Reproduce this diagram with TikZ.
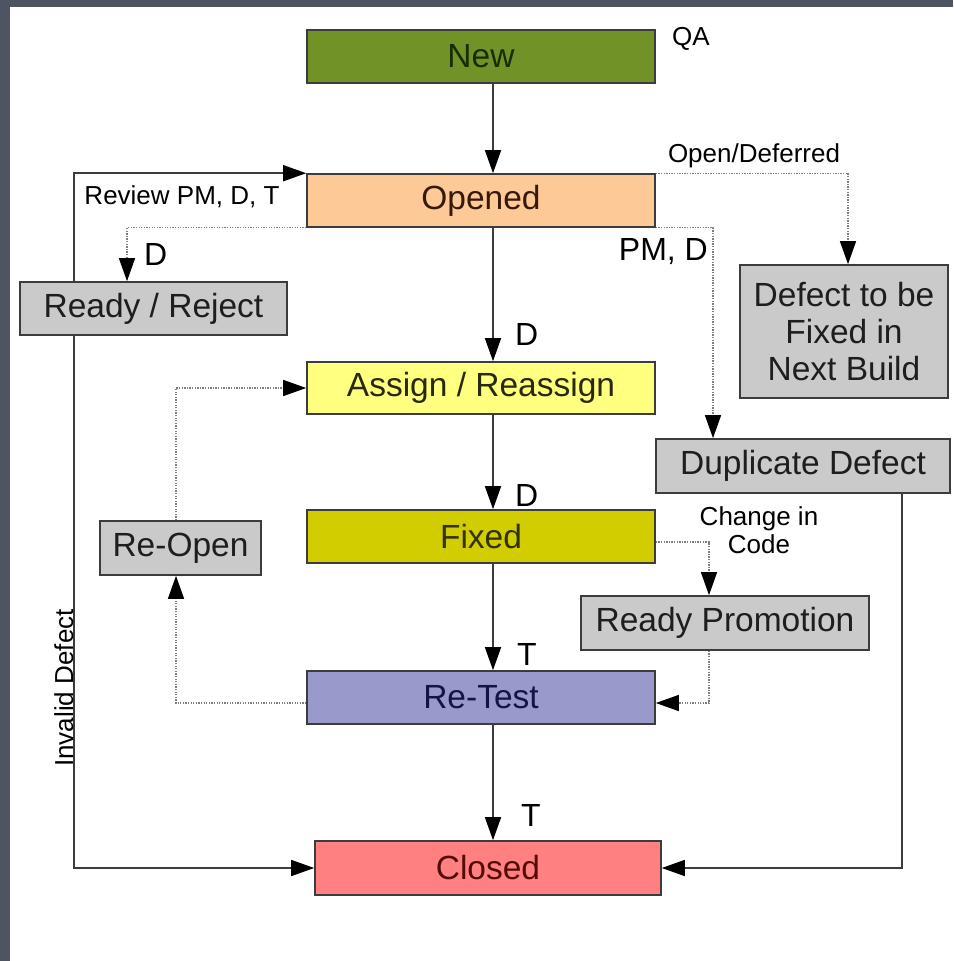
\documentclass[tikz,border=0pt]{standalone}
\usepackage{fontspec}
\setmainfont{Liberation Sans}
\usetikzlibrary{arrows.meta}
\definecolor{bgdark}{RGB}{78,84,98}
\definecolor{boxline}{RGB}{60,60,60}
\definecolor{linec}{RGB}{60,60,60}
\definecolor{dotgray}{RGB}{125,125,125}
\definecolor{cnew}{RGB}{112,146,38}
\definecolor{tnew}{RGB}{25,45,5}
\definecolor{copened}{RGB}{252,201,151}
\definecolor{topened}{RGB}{55,25,10}
\definecolor{cassign}{RGB}{255,255,128}
\definecolor{tassign}{RGB}{40,40,10}
\definecolor{cfixed}{RGB}{210,205,0}
\definecolor{tfixed}{RGB}{50,50,5}
\definecolor{cretest}{RGB}{153,153,204}
\definecolor{tretest}{RGB}{20,20,70}
\definecolor{cclosed}{RGB}{255,128,128}
\definecolor{tclosed}{RGB}{85,10,10}
\definecolor{cgray}{RGB}{202,202,202}
\definecolor{tgray}{RGB}{30,30,30}
\begin{document}
\begin{tikzpicture}[x=1pt,y=-1pt,
  box/.style={draw=boxline,line width=1.6pt,rectangle,inner sep=0pt,align=center,
    font=\fontsize{33.5}{37}\selectfont},
  graybox/.style={box,fill=cgray,text=tgray},
  solidarrow/.style={draw=linec,line width=1.5pt,-{Triangle[length=23pt,width=16pt,color=black]}},
  dotarrow/.style={draw=dotgray,line width=1.3pt,dash pattern=on 1.3pt off 1.3pt,
    -{Triangle[length=23pt,width=16pt,color=black]}},
  lbl/.style={inner sep=0pt,text=black,font=\fontsize{26}{28}\selectfont},
  biglbl/.style={inner sep=0pt,text=black,font=\fontsize{32}{34}\selectfont}]
\useasboundingbox (0,0) rectangle (953,961);
\fill[bgdark] (0,0) rectangle (953,961);
\fill[white] (10,7) rectangle (953,961);

% boxes
\node[box,fill=cnew,text=tnew,minimum width=348pt,minimum height=53pt] (new) at (481,56.5) {New};
\node[box,fill=copened,text=topened,minimum width=348pt,minimum height=53pt] (opened) at (481,200.5) {Opened};
\node[graybox,minimum width=267pt,minimum height=53pt] (ready) at (153.5,308.5) {Ready / Reject};
\node[box,fill=cassign,text=tassign,minimum width=348pt,minimum height=52pt] (assign) at (481,388) {Assign / Reassign};
\node[box,fill=cfixed,text=tfixed,minimum width=348pt,minimum height=53pt] (fixed) at (481,536.5) {Fixed};
\node[box,fill=cretest,text=tretest,minimum width=348pt,minimum height=53pt] (retest) at (481,697.5) {Re-Test};
\node[box,fill=cclosed,text=tclosed,minimum width=346pt,minimum height=54pt] (closed) at (488,868) {Closed};
\node[graybox,minimum width=161pt,minimum height=54pt] (reopen) at (180.5,548) {Re-Open};
\node[graybox,minimum width=208pt,minimum height=133pt] (defect) at (844,331.5) {Defect to be\\Fixed in\\Next Build};
\node[graybox,minimum width=294pt,minimum height=54pt] (dup) at (803,466) {Duplicate Defect};
\node[graybox,minimum width=288pt,minimum height=54pt] (promo) at (725,623) {Ready Promotion};

% helper coordinates
\coordinate (cx) at (493,0);
\coordinate (lx) at (74,0);
\coordinate (dx) at (127,0);
\coordinate (rty) at (0,703);
\coordinate (rox) at (176,0);
\coordinate (odx) at (848,0);
\coordinate (pdx) at (713,0);
\coordinate (fy) at (0,542);
\coordinate (fdx) at (709,0);
\coordinate (dupx) at (902,0);

% main flow
\draw[solidarrow] (new.south -| cx) -- (opened.north -| cx);
\draw[solidarrow] (opened.south -| cx) -- (assign.north -| cx);
\draw[solidarrow] (assign.south -| cx) -- (fixed.north -| cx);
\draw[solidarrow] (fixed.south -| cx) -- (retest.north -| cx);
\draw[solidarrow] (retest.south -| cx) -- (closed.north -| cx);

% left side
\draw[solidarrow] (ready.north -| lx) |- (opened.north west);
\draw[dotarrow] (opened.south west) -| (ready.north -| dx);
\draw[solidarrow] (ready.south -| lx) |- (closed.west);
\draw[dotarrow] (retest.west |- rty) -| (reopen.south -| rox);
\draw[dotarrow] (reopen.north -| rox) |- (assign.west);

% right side
\draw[dotarrow] (opened.north east) -| (defect.north -| odx);
\draw[dotarrow] (opened.south east) -| (dup.north -| pdx);
\draw[dotarrow] (fixed.east |- fy) -| (promo.north -| fdx);
\draw[dotarrow] (promo.south -| fdx) |- (retest.east |- rty);
\draw[solidarrow] (dup.south -| dupx) |- (closed.east);

% labels
\node[lbl,anchor=base] (qa) at (691,45) {QA};
\node[lbl,anchor=base] (od) at (754,162) {Open/Deferred};
\node[biglbl,anchor=base east] (pmd) at (708,260) {PM, D};
\node[lbl,anchor=base] (rev) at (182,204) {Review PM, D, T};
\node[biglbl,anchor=base west] (d1) at (144,265) {D};
\node[biglbl,anchor=base west] (d2) at (515,345) {D};
\node[biglbl,anchor=base west] (d3) at (515,506) {D};
\node[biglbl,anchor=base west] (t1) at (517,665) {T};
\node[biglbl,anchor=base west] (t2) at (521,826) {T};
\node[lbl,anchor=base] (cic1) at (759,525) {Change in};
\node[lbl,anchor=base] (cic2) at (759,553) {Code};
\node[lbl,anchor=base,rotate=90] (inv) at (73,688) {Invalid Defect};
\end{tikzpicture}
\end{document}
